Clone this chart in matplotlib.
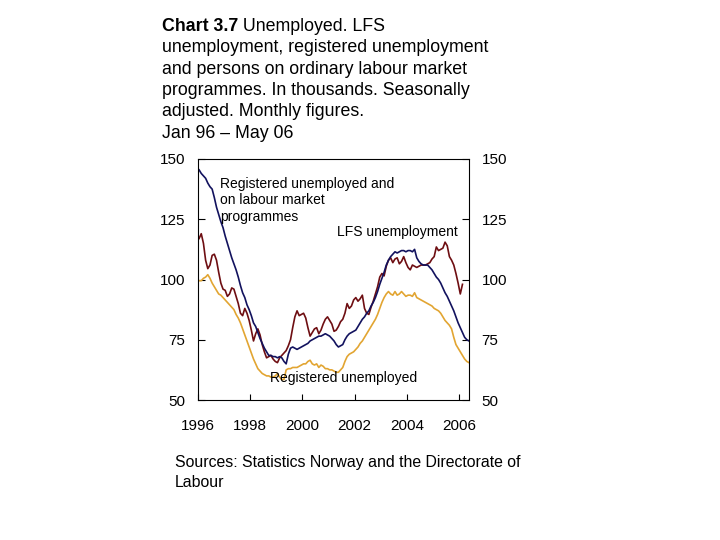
import matplotlib
matplotlib.use('Agg')
import matplotlib.pyplot as plt
import numpy as np

plt.rcParams['font.family'] = ['Liberation Sans', 'DejaVu Sans']

# ---- data (thousands, monthly, Jan 1996 onwards) ----
start_year = 1996
reg_prog = [145.5, 144, 143, 142, 140, 138.5, 137.5, 134, 130, 127, 124, 121.5,
            118, 115, 112, 109, 106.5, 104, 101, 97.5, 94.5, 92.5, 89.5, 87.5,
            85, 82, 80.5, 78, 75.5, 73.5, 71.5, 70, 68.5, 68.5, 68, 68,
            67.5, 68, 67.5, 66, 65, 69, 71.5, 72, 71.5, 71, 71.5, 72,
            72.5, 73, 73.5, 74.5, 75, 75.5, 76, 76.5, 76.5, 77, 77.5, 77,
            76.5, 75.5, 74.5, 73, 72, 72.5, 73, 75, 76.5, 77.5, 78, 78.5,
            79, 80.5, 82, 83.5, 84.5, 86, 87, 89, 90.5, 92.5, 95, 98,
            100.5, 103, 106, 108, 109.5, 110.5, 111.5, 111, 111.5, 112, 112, 111.5,
            112, 112, 111.5, 112.5, 109, 107.5, 106.5, 106, 106, 106, 105, 104,
            102.5, 101, 100, 98.5, 96.5, 94.5, 93, 91, 89, 87, 84.5, 82,
            80, 78, 76, 75, 74.5]
lfs = [117, 119, 115, 108, 104.5, 106, 110, 110.5, 108, 103, 98.5, 96,
       95.5, 93, 94, 96.5, 96, 93, 90, 86, 85, 88, 86, 83,
       79, 74.5, 77.5, 79.5, 77, 73, 70, 67.5, 68, 68.5, 67, 66,
       65.5, 67.5, 68.5, 69.5, 70.5, 72.5, 75, 80, 84.5, 87, 85, 85.5,
       86, 84, 80, 76.5, 78, 79.5, 80, 77.5, 79, 81.5, 83.5, 84.5,
       83, 81.5, 78.5, 79, 80.5, 82.5, 83.5, 86, 90, 88, 89, 91.5,
       92.5, 91, 92, 93.5, 88, 86, 85.5, 88.5, 91, 94, 97, 101,
       102.5, 101.5, 105.5, 108, 109, 107, 108.5, 109, 106.5, 107.5, 109.5, 107,
       105, 104, 106, 105.5, 105, 105.5, 106, 106, 106, 106.5, 107, 108.5,
       109.5, 113.5, 112, 112.5, 113, 115.5, 114, 109.5, 108, 106, 102.5, 98.5,
       94, 98]
registered = [99.5, 99.5, 100.5, 101, 102, 100.5, 98.5, 97, 95.5, 94, 93.5, 92.5,
              91.5, 90.5, 89.5, 88.5, 87.5, 85.5, 84, 82, 79.5, 77, 74.5, 72,
              69.5, 67, 65, 63, 62, 61, 60.5, 60, 60, 59.5, 59.5, 60,
              61, 59.5, 58.5, 58.5, 62.5, 63, 63, 63.5, 63.5, 63.5, 64, 64.5,
              65, 65, 66, 66.5, 65, 64.5, 65, 63.5, 64.5, 64, 63, 63,
              62.5, 62.5, 62, 61.5, 61.5, 62.5, 63.5, 66, 68, 69, 69.5, 70,
              71, 72, 73.5, 74.5, 76, 77.5, 79, 80.5, 82, 83.5, 85.5, 88,
              90.5, 92.5, 94, 95, 94, 93.5, 95, 93.5, 94, 95, 94, 93,
              93.5, 93.5, 93, 94.5, 92.5, 92, 91.5, 91, 90.5, 90, 89.5, 89,
              88, 87.5, 87, 86, 84.5, 83, 82, 81, 79.5, 76, 73, 71.5,
              70, 68.5, 67, 66, 65.5]
year_ticks = [1996, 1998, 2000, 2002, 2004, 2006]
y_ticks = [50, 75, 100, 125, 150]

NAVY = '#12125e'
MAROON = '#6e0e12'
GOLD = '#e2a532'

W, H = 720, 540
fig = plt.figure(figsize=(W / 100, H / 100), dpi=100)
ax = fig.add_axes([198 / W, 1 - 400 / H, (469 - 198) / W, (400 - 159) / H])


def month_x(n):
    return start_year + (np.arange(n) + 0.5) / 12.0


ax.plot(month_x(len(registered)), registered, color=GOLD, lw=1.2)
ax.plot(month_x(len(lfs)), lfs, color=MAROON, lw=1.2)
ax.plot(month_x(len(reg_prog)), reg_prog, color=NAVY, lw=1.2)

xs = month_x(len(reg_prog))
ax.set_xlim(xs[0], xs[-1])
ax.set_ylim(50, 150)
ax.set_yticks(y_ticks)
ax.set_xticks(year_ticks)
ax.set_xticklabels([str(y) for y in year_ticks])
ax.tick_params(axis='y', direction='in', length=5, left=True, right=True,
               labelleft=True, labelright=True, labelsize=11, pad=9, width=0.8)
ax.tick_params(axis='x', direction='in', length=4, labelsize=11, pad=14, width=0.8)
for s in ax.spines.values():
    s.set_linewidth(0.8)
    s.set_color('black')


def ftext(x, y, s, **kw):
    return fig.text(x / W, 1 - y / H, s, va='baseline', ha='left', **kw)


# title
TS = 12.8
t0 = ftext(161.7, 31, "Chart 3.7", fontsize=TS, weight='bold')
fig.canvas.draw()
bb = t0.get_window_extent()
fig.text(bb.x1 / W, 1 - 31 / H, " Unemployed. LFS", fontsize=TS, va='baseline', ha='left')
title_lines = ["unemployment, registered unemployment",
               "and persons on ordinary labour market",
               "programmes. In thousands. Seasonally",
               "adjusted. Monthly figures.",
               "Jan 96 \u2013 May 06"]
for k, line in enumerate(title_lines):
    ftext(161.7, 31 + 21.3 * (k + 1), line, fontsize=TS)

# series labels
LS = 10
ftext(220, 187.7, "Registered unemployed and", fontsize=LS)
ftext(220, 204.3, "on labour market", fontsize=LS)
ftext(220, 221, "programmes", fontsize=LS)
ftext(336.7, 235.7, "LFS unemployment", fontsize=LS)
ftext(270, 381.7, "Registered unemployed", fontsize=LS)

# sources
ftext(175, 466.7, "Sources: Statistics Norway and the Directorate of", fontsize=11.4)
ftext(175, 486.7, "Labour", fontsize=11.4)

fig.savefig('out.png', dpi=100)
